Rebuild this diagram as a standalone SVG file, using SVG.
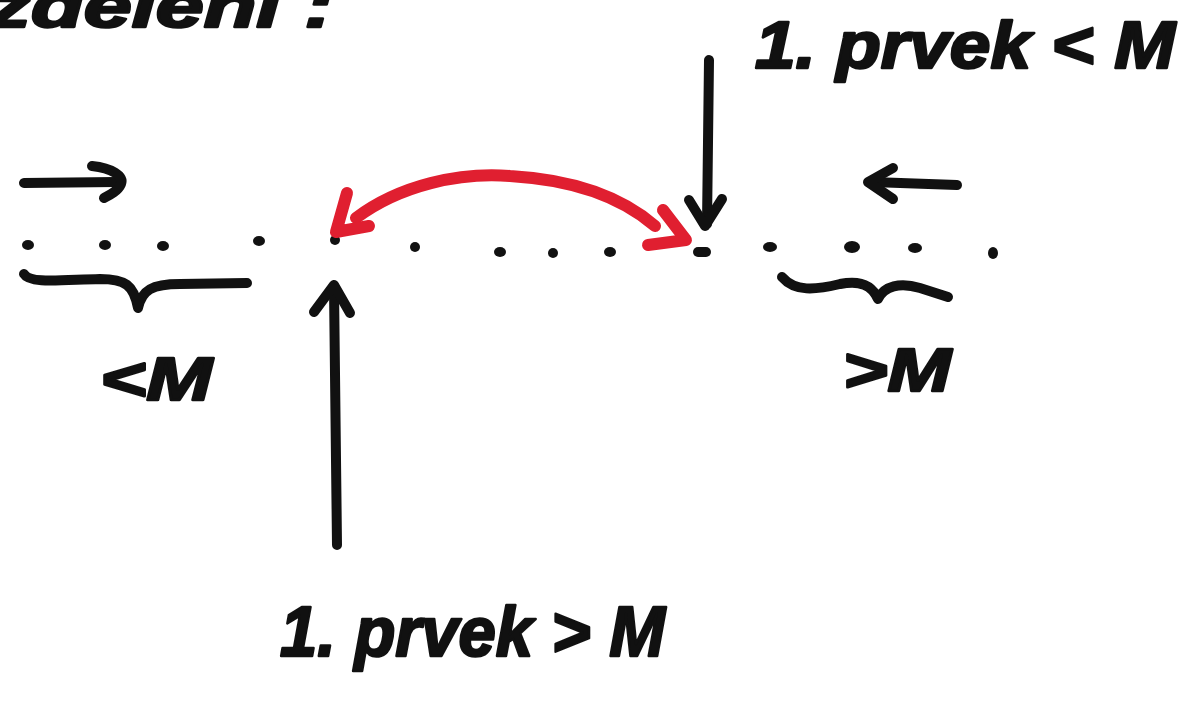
<svg xmlns="http://www.w3.org/2000/svg" width="1193" height="703" viewBox="0 0 1193 703">
  <style>
    .ink { fill: none; stroke: #111; stroke-width: 10; stroke-linecap: round; stroke-linejoin: round; }
    .red { fill: none; stroke: #e01f30; stroke-width: 12; stroke-linecap: round; stroke-linejoin: round; }
    .hand { font-family: "Liberation Sans", Arial, sans-serif; font-weight: bold; font-style: italic; fill: #111; stroke: #111; stroke-width: 2.5; stroke-linejoin: round; }
    .dot { fill: #111; }
  </style>
  <rect width="1193" height="703" fill="#ffffff"/>

  <!-- heading, clipped by the top edge -->
  <g id="heading">
    <text class="hand" x="-12" y="27" font-size="62" textLength="345" lengthAdjust="spacingAndGlyphs">zdělení :</text>
  </g>

  <!-- row of elements -->
  <g id="elements">
    <ellipse class="dot" cx="28" cy="245" rx="6" ry="5"/>
    <ellipse class="dot" cx="105" cy="245" rx="6" ry="5"/>
    <ellipse class="dot" cx="163" cy="246" rx="6" ry="5"/>
    <ellipse class="dot" cx="259" cy="241" rx="6" ry="5"/>
    <ellipse class="dot" cx="335" cy="240" rx="5" ry="5"/>
    <ellipse class="dot" cx="415" cy="247" rx="5" ry="5"/>
    <ellipse class="dot" cx="500" cy="252" rx="6" ry="5"/>
    <ellipse class="dot" cx="553" cy="253" rx="5" ry="5"/>
    <ellipse class="dot" cx="610" cy="252" rx="6" ry="5"/>
    <rect class="dot" x="693" y="247" width="18" height="10" rx="5"/>
    <ellipse class="dot" cx="770" cy="247" rx="7" ry="5"/>
    <ellipse class="dot" cx="852" cy="247" rx="8" ry="6"/>
    <ellipse class="dot" cx="915" cy="248" rx="7" ry="5"/>
    <ellipse class="dot" cx="993" cy="253" rx="5" ry="6"/>
  </g>

  <!-- left part: elements smaller than M -->
  <g id="left-part">
    <path class="ink" d="M24,274 C30,284 60,280 100,279 C125,279 134,285 138,308 C142,290 152,284 180,284 L247,283"/>
    <text class="hand" x="100" y="400" font-size="62" textLength="112" lengthAdjust="spacingAndGlyphs">&lt;M</text>
  </g>

  <!-- right part: elements greater than M -->
  <g id="right-part">
    <path class="ink" d="M782,277 C795,292 815,290 840,284 C860,280 872,285 878,299 C884,286 900,282 920,288 L948,297"/>
    <text class="hand" x="843" y="391" font-size="62" textLength="108" lengthAdjust="spacingAndGlyphs">&gt;M</text>
  </g>

  <!-- pointer labels -->
  <g id="label-first-less">
    <text class="hand" x="755" y="68" font-size="66" textLength="420" lengthAdjust="spacingAndGlyphs">1. prvek &lt; M</text>
  </g>
  <g id="label-first-greater">
    <text class="hand" x="280" y="656" font-size="70" textLength="385" lengthAdjust="spacingAndGlyphs">1. prvek &gt; M</text>
  </g>

  <g id="connectors">
    <!-- scan direction from the left -->
    <path class="ink" d="M24,183 L116,182"/>
    <path class="ink" d="M92,166 C112,168 124,176 121,184 C118,191 110,195 104,198"/>
    <!-- scan direction from the right -->
    <path class="ink" d="M957,185 L872,182"/>
    <path class="ink" d="M893,168 L868,182 L893,199"/>
    <!-- pointer down to the first element smaller than M -->
    <path class="ink" d="M709,60 L707,224"/>
    <path class="ink" d="M689,200 L705,226 L722,199"/>
    <!-- pointer up to the first element greater than M -->
    <path class="ink" d="M337,545 L334,288"/>
    <path class="ink" d="M314,312 L334,285 L350,313"/>
    <!-- swap -->
    <path class="red" d="M356,218 C400,185 460,172 510,176 C580,180 625,200 655,226"/>
    <path class="red" d="M347,193 L336,232 L369,226"/>
    <path class="red" d="M663,210 L686,240 L648,245"/>
  </g>
</svg>
